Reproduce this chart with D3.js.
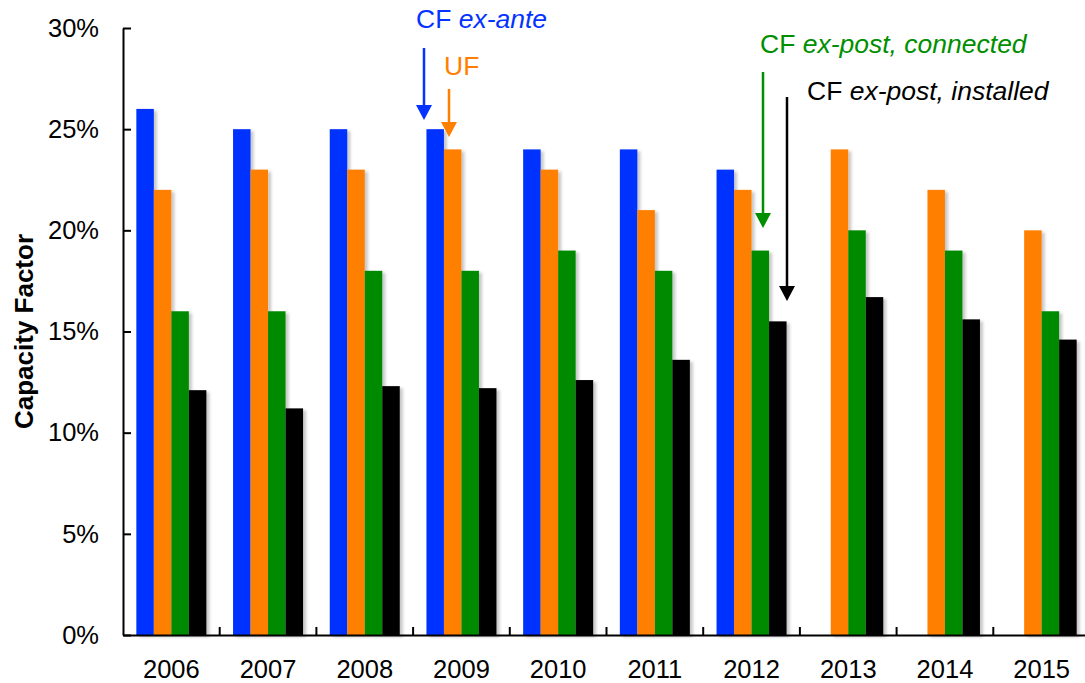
<!DOCTYPE html>
<html>
<head>
<meta charset="utf-8">
<script src="https://cdn.jsdelivr.net/npm/d3@7"></script>
<style>
  body { margin: 0; background: #fff; }
  svg { display: block; font-family: "Liberation Sans", Arial, sans-serif; }
</style>
</head>
<body>
<script>
// Data
var years = ["2006", "2007", "2008", "2009", "2010", "2011", "2012", "2013", "2014", "2015"];
var seriesKeys = ["exAnte", "uf", "connected", "installed"];
var cfExAnte   = [26, 25, 25, 25, 24, 24, 23, null, null, null];
var ufValues   = [22, 23, 23, 24, 23, 21, 22, 24, 22, 20];
var cfConnected = [16, 16, 18, 18, 19, 18, 19, 20, 19, 16];
var cfInstalled = [12.1, 11.2, 12.3, 12.2, 12.6, 13.6, 15.5, 16.7, 15.6, 14.6];
var yTicks = [0, 5, 10, 15, 20, 25, 30];

var colors = {exAnte: "#0433FF", uf: "#FF7F00", connected: "#008A00", installed: "#000000"};

var rows = years.map((y, i) => ({
    year: y,
    exAnte: cfExAnte[i],
    uf: ufValues[i],
    connected: cfConnected[i],
    installed: cfInstalled[i]
}));

var W = 1085, H = 683;
var margin = {top: 28, right: -5, bottom: 48, left: 123},
    width = W - margin.left - margin.right,
    height = H - margin.top - margin.bottom;

var svg = d3.select("body").append("svg")
    .attr("width", W)
    .attr("height", H);

// soft shadow like the original
var defs = svg.append("defs");
var f = defs.append("filter").attr("id", "shadow")
    .attr("x", "-20%").attr("y", "-5%").attr("width", "160%").attr("height", "115%");
f.append("feDropShadow").attr("dx", 3).attr("dy", 2)
    .attr("stdDeviation", 1.6).attr("flood-color", "#000").attr("flood-opacity", 0.22);

var g = svg.append("g")
    .attr("transform", `translate(${margin.left},${margin.top})`);

// Scales
var x0 = d3.scaleBand()
    .domain(years)
    .range([0, width])
    .paddingInner(0.276)
    .paddingOuter(0.138);

var x1 = d3.scaleBand()
    .domain(seriesKeys)
    .range([0, x0.bandwidth()]);

var yScale = d3.scaleLinear()
    .domain([0, 30])
    .range([height, 0]);

// Bars
var groups = g.selectAll(".grp")
    .data(rows)
    .enter()
    .append("g")
    .attr("class", "grp")
    .attr("transform", d => `translate(${x0(d.year)},0)`);

groups.selectAll("rect")
    .data(d => seriesKeys.filter(k => d[k] != null).map(k => ({key: k, value: d[k]})))
    .enter()
    .append("rect")
    .attr("x", d => x1(d.key))
    .attr("y", d => yScale(d.value))
    .attr("width", x1.bandwidth())
    .attr("height", d => height - yScale(d.value))
    .attr("fill", d => colors[d.key])
    .attr("filter", "url(#shadow)");

// Y axis
var yAxis = d3.axisLeft(yScale)
    .tickValues(yTicks)
    .tickFormat(d => d + "%")
    .tickSizeInner(-8)
    .tickSizeOuter(0)
    .tickPadding(24);

var yg = g.append("g").call(yAxis);
yg.select(".domain").attr("stroke", "#000").attr("stroke-width", 2);
yg.selectAll(".tick line").attr("stroke", "#000").attr("stroke-width", 2);
yg.selectAll("text").attr("font-size", 25.5).attr("fill", "#000")
    .attr("font-family", "Liberation Sans, Arial, sans-serif");

// X axis
var xAxis = d3.axisBottom(x0)
    .tickSizeInner(0)
    .tickSizeOuter(0)
    .tickPadding(25);

var xg = g.append("g")
    .attr("transform", `translate(0,${height})`)
    .call(xAxis);
xg.select(".domain").attr("stroke", "#000").attr("stroke-width", 2);
xg.selectAll("text").attr("font-size", 25.5).attr("fill", "#000")
    .attr("font-family", "Liberation Sans, Arial, sans-serif");

// separator ticks between year groups
var step = x0.step();
g.selectAll(".sep")
    .data(years.slice(1))
    .enter()
    .append("line")
    .attr("x1", d => x0(d) - step * x0.paddingInner() / 2)
    .attr("x2", d => x0(d) - step * x0.paddingInner() / 2)
    .attr("y1", height)
    .attr("y2", height - 8)
    .attr("stroke", "#000")
    .attr("stroke-width", 2);

// Y axis title
svg.append("text")
    .attr("transform", `translate(33,${margin.top + height / 2}) rotate(-90)`)
    .attr("text-anchor", "middle")
    .attr("font-size", 26)
    .attr("font-weight", "bold")
    .text("Capacity Factor");

// Annotations (labels + arrows)
var notes = [
    {key: "exAnte", tx: 416, ty: 28, plain: "CF ", ital: "ex-ante", ax: 424, ay1: 48, ay2: 120},
    {key: "uf", tx: 444, ty: 75, plain: "UF", ital: "", ax: 449, ay1: 89, ay2: 137},
    {key: "connected", tx: 760, ty: 53, plain: "CF ", ital: "ex-post, connected", ax: 763, ay1: 72, ay2: 228},
    {key: "installed", tx: 807, ty: 100, plain: "CF ", ital: "ex-post, installed", ax: 787, ay1: 97, ay2: 301}
];

notes.forEach(n => {
    var c = n.key === "connected" ? "#008F00" : colors[n.key];
    var t = svg.append("text")
        .attr("x", n.tx)
        .attr("y", n.ty)
        .attr("font-size", 26.5)
        .attr("fill", c);
    t.append("tspan").text(n.plain);
    if (n.ital) t.append("tspan").attr("font-style", "italic").text(n.ital);

    svg.append("line")
        .attr("x1", n.ax).attr("x2", n.ax)
        .attr("y1", n.ay1).attr("y2", n.ay2 - 12)
        .attr("stroke", c)
        .attr("stroke-width", 2.5);
    svg.append("path")
        .attr("d", `M${n.ax - 8},${n.ay2 - 15} L${n.ax + 8},${n.ay2 - 15} L${n.ax},${n.ay2} Z`)
        .attr("fill", c);
});
</script>
</body>
</html>
